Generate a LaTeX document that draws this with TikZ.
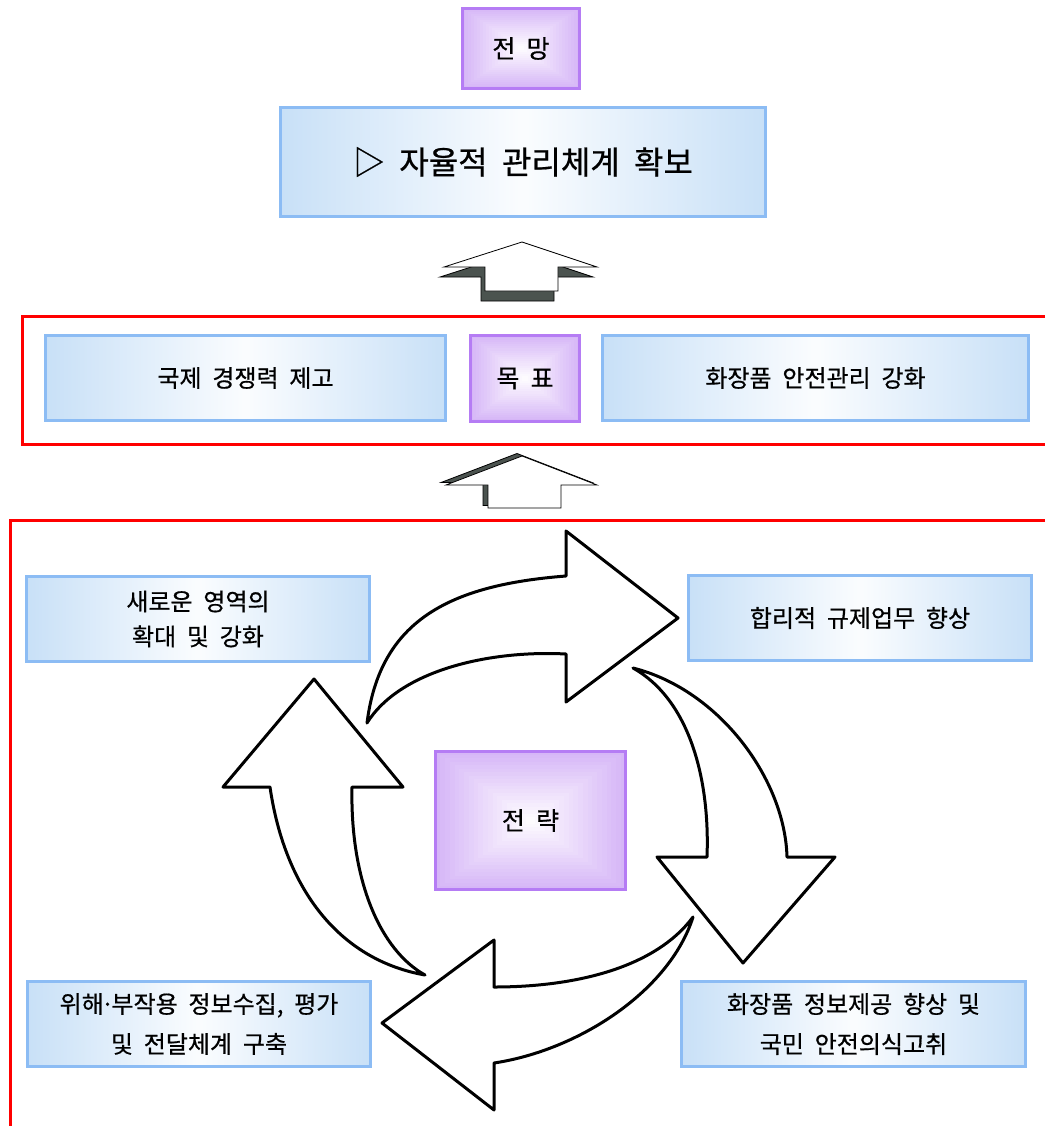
\documentclass[tikz,border=0pt]{standalone}
\usepackage{fontspec}
\setmainfont{Noto Sans CJK KR}[WordSpace=2, FakeBold=0.6]
\usetikzlibrary{calc}

\definecolor{bborder}{HTML}{8CBCF4}
\definecolor{bfill}{HTML}{C8E0F7}
\definecolor{pborder}{HTML}{B57CF4}
\definecolor{pfill}{HTML}{D6B6F7}
\definecolor{shadowgray}{HTML}{4B534F}

\tikzset{
  bluebox/.style={draw=bborder, line width=3pt, left color=bfill, right color=bfill,
    middle color=white!92!bfill, inner sep=0pt, align=center,
    font=\fontsize{24}{40}\selectfont},
  purplebox/.style={draw=pborder, line width=3pt, inner sep=0pt,
    font=\fontsize{25}{28}\selectfont,
    path picture={
      \foreach \i [evaluate=\i as \p using int(100-5*\i)] in {0,...,19}{
        \fill[pfill!\p!white]
          ($(path picture bounding box.south west)!{\i/40}!(path picture bounding box.north east)$)
          rectangle
          ($(path picture bounding box.north east)!{\i/40}!(path picture bounding box.south west)$);
      }}},
  redframe/.style={draw=red, line width=3pt},
  curvarrow/.style={draw=black, line width=3pt, fill=white, line join=round},
  blockarrow/.style={draw=black, line width=0.8pt, fill=white},
  blockshadow/.style={draw=black, line width=0.8pt, fill=shadowgray},
}

\begin{document}
\begin{tikzpicture}[x=1pt, y=-1pt]
  \useasboundingbox (0,0) rectangle (1045,1126);
  \fill[white] (0,0) rectangle (1045,1126);

  % outlook
  \node[purplebox, minimum width=117pt, minimum height=80pt] (outlook) at (521,48.5) {전 망};
  \node[bluebox, minimum width=485pt, minimum height=109pt,
        font=\fontsize{32}{36}\selectfont] (vision) at (523,162) {▷ 자율적 관리체계 확보};

  % block arrow towards the outlook
  \begin{scope}[shift={(-4,10)}]
    \draw[blockshadow] (522,242) -- (597,267) -- (558,267) -- (558,291) -- (485,291)
      -- (485,267) -- (444,267) -- cycle;
  \end{scope}
  \draw[blockarrow] (522,242) -- (597,267) -- (558,267) -- (558,291) -- (485,291)
    -- (485,267) -- (444,267) -- cycle;

  % goals
  \draw[redframe] (1045,316) -- (22,316) -- (22,444) -- (1045,444);
  \node[bluebox, minimum width=400pt, minimum height=85pt] (intl) at (245.5,378) {국제 경쟁력 제고};
  \node[purplebox, minimum width=109pt, minimum height=86pt] (goal) at (525,378.5) {목 표};
  \node[bluebox, minimum width=426pt, minimum height=85pt] (safety) at (815.5,378) {화장품 안전관리 강화};

  % block arrow towards the goals
  \begin{scope}[shift={(-5,-2.5)}]
    \draw[blockshadow] (522,456) -- (597,485) -- (561,485) -- (561,508) -- (488,508)
      -- (488,485) -- (446,485) -- cycle;
  \end{scope}
  \draw[blockarrow] (522,456) -- (597,485) -- (561,485) -- (561,508) -- (488,508)
    -- (488,485) -- (446,485) -- cycle;

  % strategies
  \draw[redframe] (1045,520) -- (10,520) -- (10,1130);
  \node[bluebox, minimum width=343pt, minimum height=85pt,
        font=\fontsize{24}{35}\selectfont] (newarea) at (198,619) {새로운 영역의\\확대 및 강화};
  \node[bluebox, minimum width=343pt, minimum height=85pt] (regul) at (860,618) {합리적 규제업무 향상};
  \node[purplebox, minimum width=190pt, minimum height=138pt] (strat) at (530.5,820.5) {전 략};
  \node[bluebox, minimum width=343pt, minimum height=85pt] (harm) at (199,1024)
    {위해\kern-0.12em·\kern-0.12em부작용 정보수집, 평가\\및 전달체계 구축};
  \node[bluebox, minimum width=344pt, minimum height=85pt] (info) at (853.5,1024)
    {화장품 정보제공 향상 및\\국민 안전의식고취};

  % circular cycle of curved arrows
  \draw[curvarrow] (367,723) .. controls (380,620) and (450,585) .. (566,576)
    -- (566,531) -- (678,618) -- (566,702) -- (566,654)
    .. controls (490,650) and (400,670) .. (367,723) -- cycle;
  \draw[curvarrow] (633,668) .. controls (720,690) and (785,780) .. (787,857)
    -- (835,857) -- (743,963) -- (657,857) -- (707,857)
    .. controls (710,780) and (690,700) .. (633,668) -- cycle;
  \draw[curvarrow] (693,917) .. controls (655,968) and (575,987) .. (494,987)
    -- (494,940) -- (382,1023) -- (494,1110) -- (494,1063)
    .. controls (580,1050) and (670,990) .. (693,917) -- cycle;
  \draw[curvarrow] (425,975) .. controls (340,960) and (285,890) .. (270,787)
    -- (223,787) -- (314,679) -- (403,787) -- (352,787)
    .. controls (350,880) and (380,950) .. (425,975) -- cycle;
\end{tikzpicture}
\end{document}
